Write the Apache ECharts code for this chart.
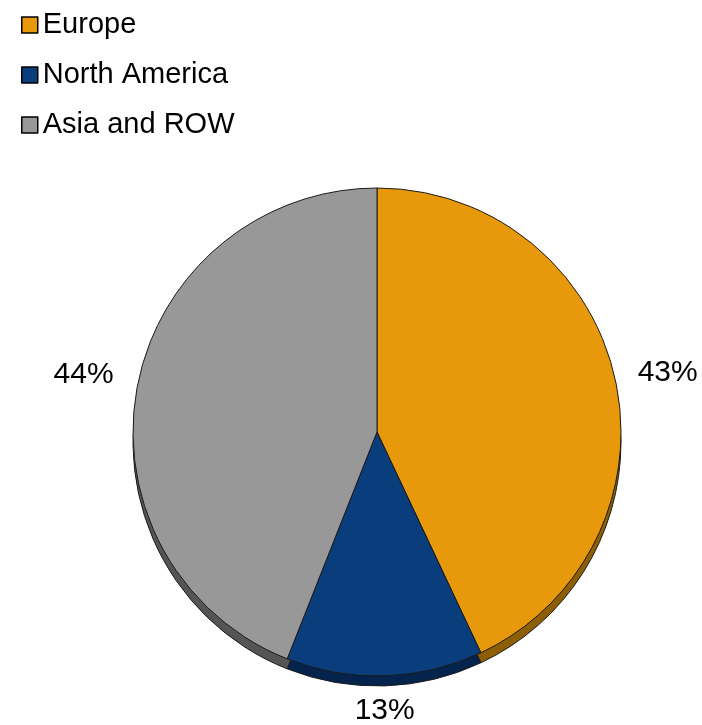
<!DOCTYPE html>
<html>
<head>
<meta charset="utf-8">
<script src="https://cdn.jsdelivr.net/npm/echarts@6/dist/echarts.min.js"></script>
<style>
html,body{margin:0;padding:0;background:#fff;}
#chart{width:702px;height:725px;}
</style>
</head>
<body>
<div id="chart"></div>
<script>
var regions = ['Europe', 'North America', 'Asia and ROW'];
var shares = [43, 13, 44];
var topColors = ['#E8990B', '#0A3D7C', '#989898'];
var sideColors = ['#8E5E05', '#05244D', '#555555'];

var chart = echarts.init(document.getElementById('chart'));

var mainData = regions.map(function (n, i) {
  var d = { name: n, value: shares[i], itemStyle: { color: topColors[i] } };
  if (i === 1) { d.labelLine = { length: 32, length2: 0 }; }
  return d;
});
var sideData = regions.map(function (n, i) {
  return { name: n, value: shares[i], itemStyle: { color: sideColors[i] } };
});

chart.setOption({
  animation: false,
  legend: {
    orient: 'vertical',
    left: 16,
    top: 5,
    data: regions,
    icon: 'rect',
    itemWidth: 16,
    itemHeight: 16,
    itemGap: 20,
    selectedMode: false,
    itemStyle: { borderColor: '#000', borderWidth: 1.5 },
    textStyle: { fontSize: 29, fontFamily: 'Liberation Sans, Arial, sans-serif', color: '#000', lineHeight: 30, padding: [0, 0, 0, 0] }
  },
  series: [
    {
      type: 'pie',
      z: 3,
      center: [377, 432],
      radius: 244,
      startAngle: 90,
      clockwise: true,
      silent: true,
      data: mainData,
      itemStyle: { borderColor: '#1a1a1a', borderWidth: 1 },
      label: {
        show: true,
        position: 'outside',
        formatter: '{d}%',
        fontSize: 30,
        overflow: 'none',
        edgeDistance: 0,
        fontFamily: 'Liberation Sans, Arial, sans-serif',
        color: '#000'
      },
      labelLine: { show: false, length: 18, length2: 6 },
      labelLayout: function (p) {
        if (p.dataIndex === 1) { return { align: 'center', dx: -6, dy: 3 }; }
        if (p.dataIndex === 0) { return { dx: -6, dy: -2 }; }
        return { dx: 5, dy: -8 };
      }
    },
    {
      type: 'pie',
      z: 2,
      center: [377, 442],
      radius: 244,
      startAngle: 90,
      clockwise: true,
      silent: true,
      data: sideData,
      itemStyle: { borderColor: '#1a1a1a', borderWidth: 1 },
      label: { show: false },
      labelLine: { show: false }
    }
  ]
});
</script>
</body>
</html>
